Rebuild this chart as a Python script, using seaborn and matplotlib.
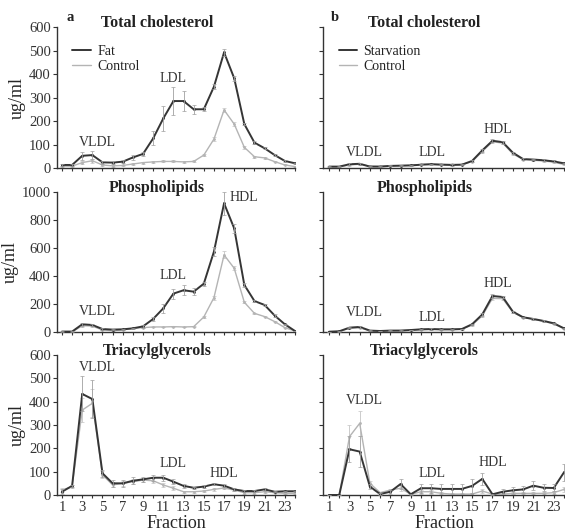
import numpy as np
import pandas as pd
import matplotlib
matplotlib.use("Agg")
import matplotlib.pyplot as plt
from matplotlib.lines import Line2D
import seaborn as sns

fractions = list(range(1, 25))

# Panel a: fat-fed vs control
tc_fat = [13, 13, 52, 55, 24, 23, 27, 45, 60, 126, 211, 285, 285, 250, 250, 346, 492, 382, 187, 108, 84, 55, 30, 20]
tc_fat_err = [3, 3, 18, 18, 5, 5, 5, 10, 10, 30, 55, 60, 42, 20, 8, 10, 15, 10, 5, 5, 5, 5, 3, 3]
tc_ctl = [8, 8, 23, 31, 13, 9, 11, 17, 23, 26, 28, 28, 26, 28, 55, 123, 247, 187, 88, 48, 43, 27, 13, 6]
tc_ctl_err = [2, 2, 8, 8, 3, 3, 3, 4, 4, 4, 4, 4, 4, 4, 5, 8, 10, 8, 5, 4, 4, 3, 2, 2]

pl_fat = [3, 3, 55, 50, 21, 17, 19, 26, 40, 93, 169, 274, 298, 288, 345, 574, 919, 740, 336, 221, 193, 117, 55, 7]
pl_fat_err = [2, 2, 10, 10, 5, 5, 5, 5, 8, 15, 30, 35, 35, 25, 15, 30, 80, 30, 15, 10, 10, 8, 5, 3]
pl_ctl = [0, 0, 45, 42, 14, 10, 14, 26, 31, 36, 36, 38, 36, 38, 107, 245, 550, 455, 212, 133, 110, 74, 31, 7]
pl_ctl_err = [1, 1, 6, 6, 3, 3, 3, 3, 3, 3, 3, 3, 3, 3, 8, 15, 25, 15, 8, 6, 6, 5, 3, 2]

tg_fat = [14, 39, 433, 411, 93, 50, 50, 61, 67, 74, 74, 57, 39, 31, 36, 46, 40, 24, 17, 17, 24, 14, 16, 16]
tg_fat_err = [10, 5, 75, 80, 15, 15, 15, 15, 12, 12, 12, 10, 8, 5, 5, 5, 5, 5, 5, 5, 5, 3, 3, 3]
tg_ctl = [21, 36, 364, 393, 86, 43, 50, 57, 64, 61, 43, 29, 14, 14, 17, 24, 30, 21, 10, 10, 14, 10, 7, 7]
tg_ctl_err = [10, 5, 50, 60, 15, 10, 10, 10, 10, 10, 10, 8, 5, 5, 5, 5, 5, 5, 4, 4, 4, 3, 3, 3]

# Panel b: starvation vs control
tc_stv = [6, 6, 16, 18, 6, 6, 9, 10, 11, 14, 16, 14, 13, 14, 30, 75, 116, 110, 65, 38, 36, 33, 28, 20]
tc_stv_err = [2, 2, 4, 4, 2, 2, 2, 2, 2, 3, 3, 3, 3, 3, 4, 5, 6, 6, 4, 4, 4, 4, 4, 3]
tc_sctl = [4, 5, 13, 16, 8, 7, 9, 10, 12, 15, 17, 16, 15, 15, 27, 70, 112, 106, 60, 36, 33, 30, 25, 15]
tc_sctl_err = [2, 2, 3, 3, 2, 2, 2, 2, 2, 2, 2, 2, 2, 2, 3, 4, 5, 5, 4, 3, 3, 3, 3, 3]

pl_stv = [2, 5, 31, 36, 10, 7, 10, 10, 14, 19, 21, 19, 19, 21, 55, 125, 257, 250, 145, 105, 93, 79, 62, 26]
pl_stv_err = [1, 2, 6, 6, 3, 3, 3, 3, 3, 3, 4, 3, 3, 3, 5, 8, 12, 10, 6, 5, 5, 5, 5, 4]
pl_sctl = [2, 4, 26, 30, 8, 6, 9, 10, 12, 16, 18, 17, 17, 19, 50, 115, 240, 238, 140, 103, 90, 76, 58, 24]
pl_sctl_err = [1, 2, 5, 5, 2, 2, 2, 2, 2, 3, 3, 3, 3, 3, 4, 7, 10, 9, 6, 5, 5, 5, 4, 3]

tg_stv = [0, 0, 196, 186, 36, 4, 14, 47, 3, 29, 29, 26, 26, 26, 39, 69, 3, 14, 20, 24, 40, 31, 30, 97]
tg_stv_err = [0, 0, 55, 65, 10, 3, 8, 20, 3, 20, 20, 20, 20, 20, 30, 25, 3, 10, 15, 15, 20, 15, 15, 35]
tg_sctl = [0, 0, 250, 307, 50, 10, 21, 29, 3, 14, 14, 7, 4, 4, 4, 17, 4, 4, 7, 7, 7, 7, 10, 24]
tg_sctl_err = [0, 0, 50, 55, 10, 3, 5, 10, 3, 8, 8, 5, 3, 3, 3, 8, 3, 3, 4, 4, 4, 4, 5, 10]

titles = ["Total cholesterol", "Phospholipids", "Triacylglycerols"]
y_limits = [600, 1000, 600]
y_steps = [100, 200, 100]

# Peak labels per row: (text, fraction, value) for panel a and panel b
labels_a = [
    [("VLDL", 4.5, 110), ("LDL", 12, 380)],
    [("VLDL", 4.5, 143), ("LDL", 12, 400), ("HDL", 19, 957)],
    [("VLDL", 4.5, 548), ("LDL", 12, 137), ("HDL", 17, 94)],
]
labels_b = [
    [("VLDL", 4.5, 64), ("LDL", 11.1, 64), ("HDL", 17.5, 162)],
    [("VLDL", 4.5, 136), ("LDL", 11.1, 100), ("HDL", 17.5, 343)],
    [("VLDL", 4.5, 407), ("LDL", 11.1, 94), ("HDL", 17, 141)],
]

series_a = [
    (tc_fat, tc_fat_err, tc_ctl, tc_ctl_err),
    (pl_fat, pl_fat_err, pl_ctl, pl_ctl_err),
    (tg_fat, tg_fat_err, tg_ctl, tg_ctl_err),
]
series_b = [
    (tc_stv, tc_stv_err, tc_sctl, tc_sctl_err),
    (pl_stv, pl_stv_err, pl_sctl, pl_sctl_err),
    (tg_stv, tg_stv_err, tg_sctl, tg_sctl_err),
]

sns.set_theme(style="ticks")
plt.rcParams["font.family"] = ["Liberation Serif", "DejaVu Serif"]
plt.rcParams["text.color"] = "#222222"

DARK = "#353535"
LIGHT = "#b4b4b4"

fig = plt.figure(figsize=(5.65, 5.31), dpi=100)

row_bottoms = [0.6836, 0.3748, 0.0678]
row_heights = [0.2655, 0.2637, 0.2637]
col_specs = [(0.1009, 0.4212, (0.51, 23.84)), (0.5717, 0.4283, (0.41, 24.1))]


def draw_panel(ax, main, main_err, ctl, ctl_err, main_name):
    df = pd.DataFrame({
        "Fraction": fractions * 2,
        "value": list(ctl) + list(main),
        "group": ["Control"] * len(fractions) + [main_name] * len(fractions),
    })
    ax.errorbar(fractions, ctl, yerr=ctl_err, fmt="none", ecolor="#c4c4c4",
                elinewidth=0.6, capsize=1.2, capthick=0.5, zorder=2)
    ax.errorbar(fractions, main, yerr=main_err, fmt="none", ecolor="#a0a0a0",
                elinewidth=0.6, capsize=1.2, capthick=0.5, zorder=3)
    sns.lineplot(data=df, x="Fraction", y="value", hue="group",
                 palette={"Control": LIGHT, main_name: DARK},
                 hue_order=["Control", main_name],
                 marker="o", markersize=2.0, markeredgewidth=0,
                 linewidth=1.4, errorbar=None, legend=False, ax=ax)
    for line in ax.lines:
        if matplotlib.colors.to_hex(line.get_color()) == LIGHT:
            line.set_linewidth(1.0)


for r in range(3):
    for c, (left, width, xlim) in enumerate(col_specs):
        ax = fig.add_axes([left, row_bottoms[r], width, row_heights[r]])
        if c == 0:
            main, main_err, ctl, ctl_err = series_a[r]
            draw_panel(ax, main, main_err, ctl, ctl_err, "Fat")
            labels = labels_a[r]
        else:
            main, main_err, ctl, ctl_err = series_b[r]
            draw_panel(ax, main, main_err, ctl, ctl_err, "Starvation")
            labels = labels_b[r]

        ax.set_xlim(*xlim)
        ax.set_ylim(0, y_limits[r])
        ax.set_yticks(np.arange(0, y_limits[r] + 1, y_steps[r]))
        ax.set_xticks(fractions)
        sns.despine(ax=ax)
        for side in ("left", "bottom"):
            ax.spines[side].set_linewidth(1.0)
            ax.spines[side].set_color("#333333")
        ax.tick_params(axis="both", direction="out", length=3, width=0.8,
                       colors="#333333", labelsize=10.5, pad=1.5)
        ax.tick_params(axis="x", length=2.5)

        if r == 2:
            ax.set_xticklabels([str(f) if f % 2 == 1 else "" for f in fractions])
            ax.set_xlabel("Fraction", fontsize=13, labelpad=1)
        else:
            ax.set_xticklabels([])
            ax.set_xlabel("")
        if c == 0:
            ax.set_ylabel("ug/ml", fontsize=13, labelpad=2)
        else:
            ax.set_yticklabels([])
            ax.set_ylabel("")

        ax.text(0.42, 1.03, titles[r], transform=ax.transAxes, ha="center",
                va="center", fontsize=11.5, fontweight="bold")
        for text, fx, fy in labels:
            ax.text(fx, fy, text, ha="center", va="center", fontsize=10,
                    color="#333333")

        if r == 0:
            ax.text(0.055 if c == 0 else 0.05, 1.07, "a" if c == 0 else "b",
                    transform=ax.transAxes, ha="center", va="center",
                    fontsize=10.5, fontweight="bold")
            name = "Fat" if c == 0 else "Starvation"
            handles = [Line2D([0], [0], color=DARK, lw=1.4),
                       Line2D([0], [0], color=LIGHT, lw=1.0)]
            ax.legend(handles, [name, "Control"], loc="upper left",
                      bbox_to_anchor=(0.03, 0.93), frameon=False, fontsize=10,
                      handlelength=1.3, handletextpad=0.5, labelspacing=0.1,
                      borderaxespad=0.2)

fig.savefig("out.png", dpi=100)
